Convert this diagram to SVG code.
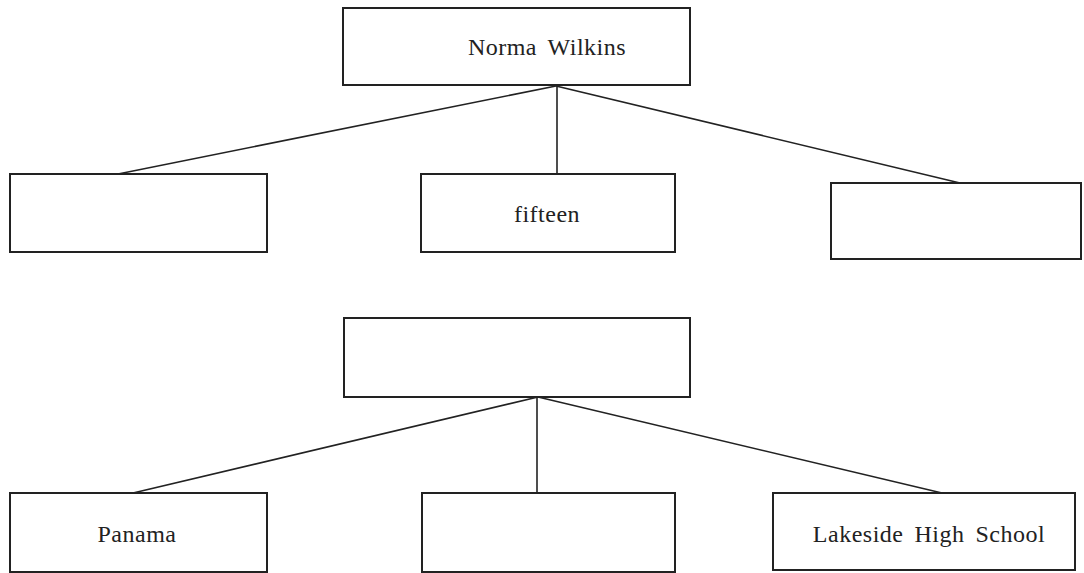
<svg xmlns="http://www.w3.org/2000/svg" width="1084" height="573" viewBox="0 0 1084 573">
<style>
.box{fill:#fff;stroke:#222;stroke-width:2}
.lbl{font-family:"Liberation Serif","Times New Roman",serif;font-size:24px;fill:#222;text-anchor:middle;letter-spacing:0.5px;word-spacing:4.5px}
.conn line{stroke:#222;stroke-width:1.6}
</style>
<rect width="1084" height="573" fill="#fff"/>
<g id="connectors" class="conn">
<line x1="556" y1="86" x2="118" y2="174"/>
<line x1="557" y1="86" x2="557" y2="174"/>
<line x1="556" y1="86" x2="960" y2="183"/>
<line x1="538" y1="397" x2="133" y2="493"/>
<line x1="537" y1="397" x2="537" y2="493"/>
<line x1="538" y1="397" x2="942" y2="493"/>
</g>
<g id="norma"><rect class="box" x="343" y="8" width="347" height="77"/><text class="lbl" x="547" y="55">Norma Wilkins</text></g>
<g id="box-left1"><rect class="box" x="10" y="174" width="257" height="78"/></g>
<g id="fifteen"><rect class="box" x="421" y="174" width="254" height="78"/><text class="lbl" x="547" y="222">fifteen</text></g>
<g id="box-right1"><rect class="box" x="831" y="183" width="250" height="76"/></g>
<g id="box-mid2"><rect class="box" x="344" y="318" width="346" height="79"/></g>
<g id="panama"><rect class="box" x="10" y="493" width="257" height="79"/><text class="lbl" x="137" y="542">Panama</text></g>
<g id="box-mid3"><rect class="box" x="422" y="493" width="253" height="79"/></g>
<g id="lakeside"><rect class="box" x="773" y="493" width="302" height="77"/><text class="lbl" x="929" y="542">Lakeside High School</text></g>
</svg>
